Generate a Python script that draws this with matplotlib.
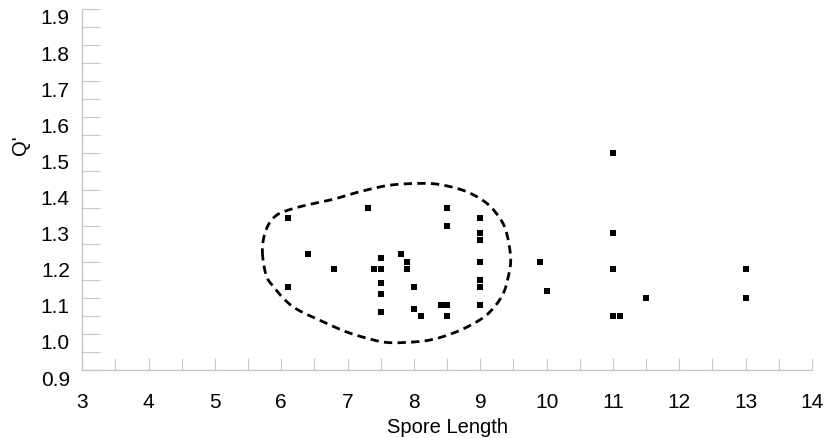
import numpy as np
import matplotlib
matplotlib.use("Agg")
import matplotlib.pyplot as plt
from matplotlib.transforms import ScaledTranslation

plt.rcParams['font.family'] = ['Liberation Sans', 'DejaVu Sans']

# ---- data ----
spore_length = [6.1, 7.3, 8.5, 8.5, 9.0, 9.0, 9.0, 9.0, 9.0, 9.0, 9.0,
                6.4, 6.8, 6.1,
                7.5, 7.4, 7.5, 7.5, 7.5, 7.5,
                7.8, 7.9, 7.9, 8.0, 8.0, 8.1,
                8.4, 8.5, 8.5,
                11.0, 11.0, 9.9, 11.0, 13.0, 10.0, 11.5, 13.0, 11.0, 11.1]
q_prime = [1.32, 1.35, 1.35, 1.30, 1.32, 1.28, 1.26, 1.20, 1.15, 1.13, 1.08,
           1.22, 1.18, 1.13,
           1.21, 1.18, 1.18, 1.14, 1.11, 1.06,
           1.22, 1.20, 1.18, 1.13, 1.07, 1.05,
           1.08, 1.08, 1.05,
           1.50, 1.28, 1.20, 1.18, 1.18, 1.12, 1.10, 1.10, 1.05, 1.05]

# outline of the dashed enclosing curve (data units)
outline_x = [5.719, 5.728, 5.804, 5.930, 6.105, 6.383, 6.784, 7.186, 7.638,
             8.140, 8.442, 8.794, 9.096, 9.296, 9.397, 9.458, 9.421, 9.346,
             9.195, 8.995, 8.644, 8.241, 7.839, 7.613, 7.438, 7.035, 6.684,
             6.256, 6.056, 5.905, 5.780]
outline_y = [1.214, 1.260, 1.302, 1.329, 1.343, 1.357, 1.373, 1.394, 1.412,
             1.417, 1.412, 1.394, 1.362, 1.320, 1.279, 1.209, 1.158, 1.112,
             1.071, 1.039, 1.006, 0.983, 0.976, 0.976, 0.981, 1.002, 1.029,
             1.066, 1.094, 1.126, 1.158]

x_ticks = list(range(3, 15))
y_ticks = [0.9, 1.0, 1.1, 1.2, 1.3, 1.4, 1.5, 1.6, 1.7, 1.8, 1.9]


def closed_catmull_rom(xs, ys, n=30):
    P = np.column_stack([xs, ys])
    m = len(P)
    out = []
    t = np.linspace(0, 1, n, endpoint=False)[:, None]
    for i in range(m):
        p0, p1, p2, p3 = P[(i - 1) % m], P[i], P[(i + 1) % m], P[(i + 2) % m]
        c = 0.5 * (2 * p1 + (-p0 + p2) * t + (2 * p0 - 5 * p1 + 4 * p2 - p3) * t ** 2
                   + (-p0 + 3 * p1 - 3 * p2 + p3) * t ** 3)
        out.append(c)
    out = np.vstack(out)
    out = np.vstack([out, out[:1]])
    return out[:, 0], out[:, 1]


W, H = 827, 438
fig = plt.figure(figsize=(W / 100, H / 100), dpi=100)
ax = fig.add_axes([82.3 / W, 1 - 370 / H, (812 - 82.3) / W, (370 - 9) / H])

ax.set_xlim(3, 14)
ax.set_ylim(0.9, 1.9)

gray = '#c8c8c8'
for s in ['top', 'right']:
    ax.spines[s].set_visible(False)
for s in ['left', 'bottom']:
    ax.spines[s].set_color(gray)
    ax.spines[s].set_linewidth(1.0)

ax.set_xticks(x_ticks)
ax.set_xticks([v + 0.5 for v in x_ticks[:-1]], minor=True)
ax.set_yticks(y_ticks)
ax.set_yticklabels([f'{v:.1f}' for v in y_ticks])
ax.set_yticks([v + 0.05 for v in y_ticks[:-1]], minor=True)

ax.tick_params(axis='x', which='both', direction='in', length=8.6, width=0.8,
               color=gray, labelsize=15, pad=16.5)
ax.tick_params(axis='y', which='both', direction='in', length=13.3, width=0.8,
               color=gray, labelsize=15, pad=9)

off = ScaledTranslation(0, -0.08, fig.dpi_scale_trans)
for lab in ax.get_yticklabels():
    lab.set_transform(lab.get_transform() + off)

cx, cy = closed_catmull_rom(outline_x, outline_y)
ax.plot(cx, cy, color='black', lw=2.0, linestyle=(0, (3.0, 1.9)),
        solid_capstyle='butt', dash_capstyle='butt')

ax.plot(spore_length, q_prime, linestyle='none', marker='s', markersize=3.8,
        color='black', markeredgewidth=0)

ax.set_xlabel('Spore Length', fontsize=14.5)
ax.xaxis.set_label_coords(0.5, (370 - 433.3) / 361)
ax.xaxis.label.set_va('baseline')
ax.set_ylabel("Q'", fontsize=14.5)
ax.yaxis.set_label_coords((21 - 82.3) / 729.7, (370 - 145) / 361)
ax.yaxis.label.set_va('center')
ax.yaxis.label.set_ha('center')

fig.savefig('out.png', dpi=100)
